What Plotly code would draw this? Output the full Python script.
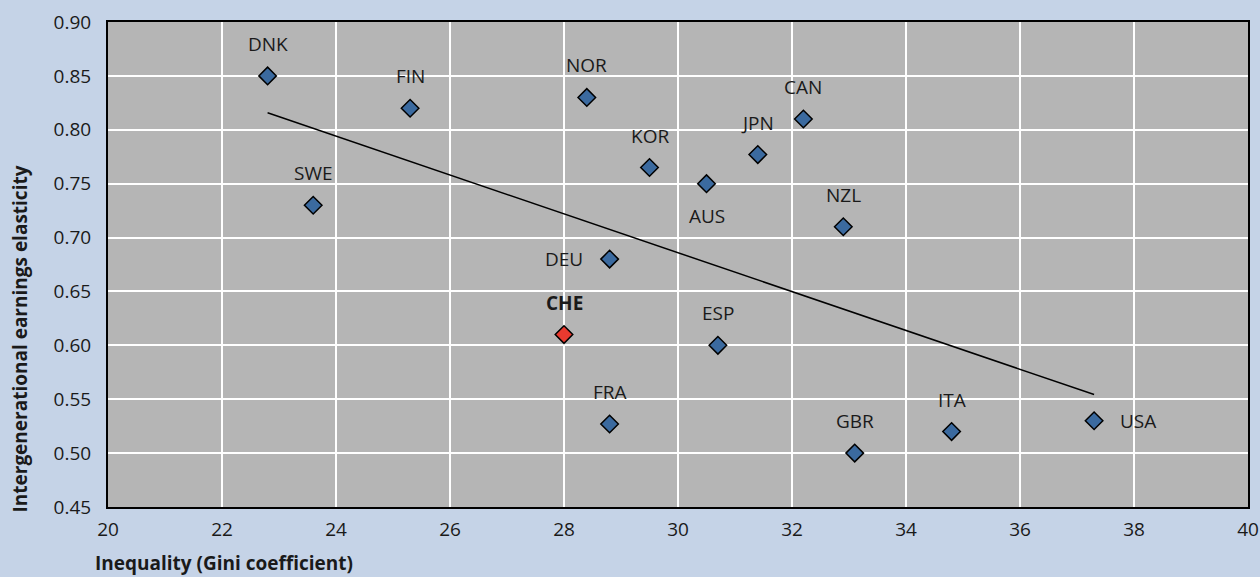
import numpy as np
import plotly.graph_objects as go

countries = ["DNK", "FIN", "SWE", "NOR", "KOR", "AUS", "JPN", "CAN", "NZL",
             "DEU", "CHE", "ESP", "FRA", "GBR", "ITA", "USA"]
gini = [22.8, 25.3, 23.6, 28.4, 29.5, 30.5, 31.4, 32.2, 32.9,
        28.8, 28.0, 30.7, 28.8, 33.1, 34.8, 37.3]
elasticity = [0.85, 0.82, 0.73, 0.83, 0.765, 0.75, 0.777, 0.81, 0.71,
              0.68, 0.61, 0.60, 0.527, 0.50, 0.52, 0.53]
label_pos = ["top", "top", "top", "top", "top", "bottom", "top", "top", "top",
             "left", "top", "top", "top", "top", "top", "right"]
highlight = "CHE"

x_ticks = [20, 22, 24, 26, 28, 30, 32, 34, 36, 38, 40]
y_ticks = [0.45, 0.50, 0.55, 0.60, 0.65, 0.70, 0.75, 0.80, 0.85, 0.90]

FONT = "Open Sans"
BLUE = "#3b6a9f"
RED = "#ea3a2f"
TXT = "#1a1a1a"

fig = go.Figure()

# Trend line (OLS fit)
slope, intercept = np.polyfit(gini, elasticity, 1)
xt = np.array([min(gini), max(gini)])
fig.add_trace(go.Scatter(x=xt, y=slope * xt + intercept, mode="lines",
                         line=dict(color="black", width=1.5),
                         hoverinfo="skip", showlegend=False))

colors = [RED if c == highlight else BLUE for c in countries]
fig.add_trace(go.Scatter(x=gini, y=elasticity, mode="markers",
                         marker=dict(symbol="diamond", size=13.5, color=colors,
                                     line=dict(color="black", width=1.5)),
                         text=countries, showlegend=False))

for c, x, y, p in zip(countries, gini, elasticity, label_pos):
    kw = dict(x=x, y=y, text=f"<b>{c}</b>" if c == highlight else c,
              showarrow=False,
              font=dict(family=FONT, size=19, color=TXT))
    if p == "top":
        kw.update(yshift=32, xanchor="center", yanchor="middle")
    elif p == "bottom":
        kw.update(yshift=-32, xanchor="center", yanchor="middle")
    elif p == "left":
        kw.update(xshift=-25, xanchor="right", yanchor="middle")
    else:
        kw.update(xshift=24, xanchor="left", yanchor="middle")
    fig.add_annotation(**kw)

# Axis titles
fig.add_annotation(x=0, y=0, xref="paper", yref="paper", xanchor="left",
                   yanchor="middle", xshift=-15, yshift=-56, showarrow=False,
                   text="<b>Inequality (Gini coefficient)</b>",
                   font=dict(family=FONT, size=19, color=TXT))
fig.add_annotation(x=0, y=0, xref="paper", yref="paper", xanchor="center",
                   yanchor="bottom", xshift=-89, yshift=-8, showarrow=False,
                   textangle=-90,
                   text="<b>Intergenerational earnings elasticity</b>",
                   font=dict(family=FONT, size=19, color=TXT))

fig.update_layout(
    width=1260, height=577,
    paper_bgcolor="#c5d3e7", plot_bgcolor="#b5b5b5",
    margin=dict(l=108, r=12, t=22, b=70),
    font=dict(family=FONT, size=19, color=TXT),
    xaxis=dict(range=[20, 40], tickvals=x_ticks, ticktext=[str(v) for v in x_ticks],
               showgrid=True, gridcolor="white", gridwidth=1.5,
               showline=True, linecolor="black", linewidth=2, mirror=True,
               ticks="", zeroline=False, automargin=False,
               ticklabelstandoff=4),
    yaxis=dict(range=[0.45, 0.90], tickvals=y_ticks,
               ticktext=[f"{v:.2f}" for v in y_ticks],
               showgrid=True, gridcolor="white", gridwidth=1.5,
               showline=True, linecolor="black", linewidth=2, mirror=True,
               ticks="", zeroline=False, automargin=False,
               ticklabelstandoff=11),
)

fig.write_html("out.html", config={"displayModeBar": False},
               post_script="document.body.style.margin='0';document.body.style.overflow='hidden';")
